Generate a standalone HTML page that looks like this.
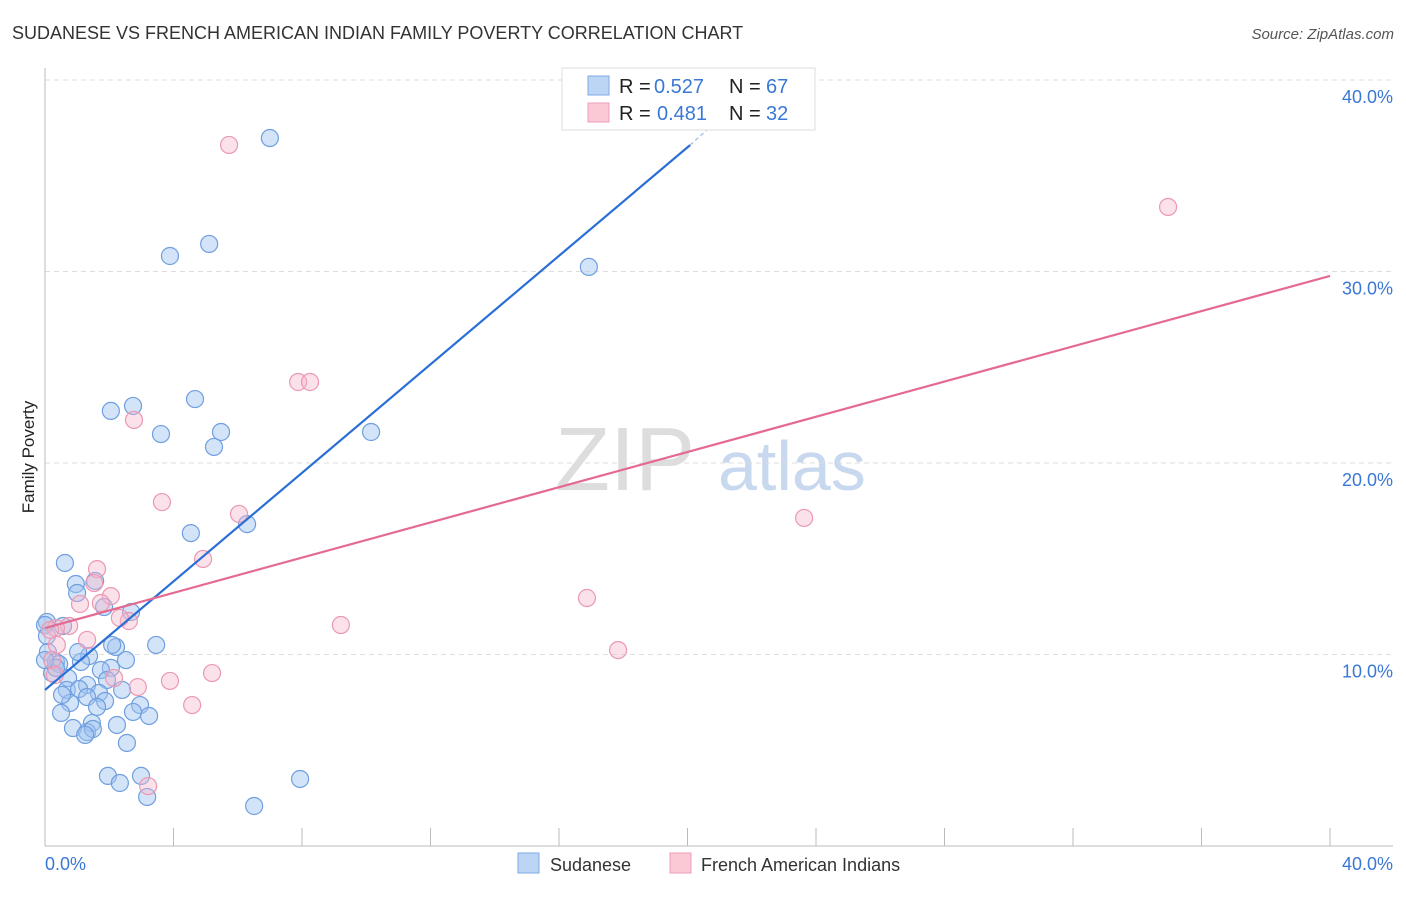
<!DOCTYPE html>
<html><head><meta charset="utf-8"><style>
body{margin:0;background:#fff;font-family:"Liberation Sans",sans-serif;}
svg text{font-family:"Liberation Sans",sans-serif;}
</style></head><body>
<svg id="chart" width="1406" height="892">
<text x="12" y="39" font-size="18" fill="#333">SUDANESE VS FRENCH AMERICAN INDIAN FAMILY POVERTY CORRELATION CHART</text>
<text x="1394" y="39" font-size="15" fill="#555" font-style="italic" text-anchor="end">Source: ZipAtlas.com</text>
<text x="34" y="457" font-size="17" fill="#222" text-anchor="middle" transform="rotate(-90 34 457)">Family Poverty</text>
<text x="555" y="490" font-size="90" fill="#ddd" font-family="Liberation Serif">ZIP</text>
<text x="718" y="490" font-size="70" fill="#c8d8ee">atlas</text>
<g id="grid"></g><g id="axes"></g><g id="pts"></g><g id="lines"></g>
<g>
<rect x="562" y="68" width="253" height="62" fill="#fff" stroke="#ddd"/>
<rect x="588" y="76" width="21" height="19" fill="#bcd5f5" stroke="#7eaae6"/>
<rect x="588" y="103" width="21" height="19" fill="#fbc8d6" stroke="#ef9fb8"/>
<text x="619" y="93" font-size="20" fill="#222">R =</text>
<text x="654" y="93" font-size="20" fill="#3a78d6">0.527</text>
<text x="729" y="93" font-size="20" fill="#222">N =</text>
<text x="766" y="93" font-size="20" fill="#3a78d6">67</text>
<text x="619" y="120" font-size="20" fill="#222">R =</text>
<text x="657" y="120" font-size="20" fill="#3a78d6">0.481</text>
<text x="729" y="120" font-size="20" fill="#222">N =</text>
<text x="766" y="120" font-size="20" fill="#3a78d6">32</text>
</g>
<g>
<rect x="518" y="853" width="21" height="20" fill="#bcd5f5" stroke="#7eaae6"/>
<text x="550" y="871" font-size="18" fill="#333">Sudanese</text>
<rect x="670" y="853" width="21" height="20" fill="#fbc8d6" stroke="#ef9fb8"/>
<text x="701" y="871" font-size="18" fill="#333">French American Indians</text>
</g>
</svg>
<script>
const yTicks=[10,20,30,40];
const yTickLabels=["10.0%","20.0%","30.0%","40.0%"];
const xEndLabels=["0.0%","40.0%"];
const sudX=[7.0,3.89,5.11,16.93,2.05,2.74,4.67,3.61,5.48,5.26,10.15,4.54,6.29,0.62,0.96,1.56,1.0,1.84,2.68,0.56,0.06,0.09,0.34,0.44,2.21,3.46,1.37,1.12,2.05,2.52,1.74,0.22,0.72,1.31,1.93,0.68,1.06,1.68,2.40,1.31,1.87,0.78,1.62,2.96,2.74,3.24,0.50,1.46,0.87,1.31,1.49,2.24,2.55,1.96,2.33,2.99,3.18,6.51,7.94,0.0,0.06,0.34,0.53,0.0,2.09,1.03,1.25];
const sudY=[36.97,30.81,31.44,30.24,22.72,22.98,23.34,21.51,21.62,20.84,21.62,16.34,16.81,14.78,13.68,13.84,13.21,12.48,12.22,11.49,11.70,10.13,9.61,9.50,10.39,10.50,9.92,9.61,9.30,9.71,9.19,9.03,8.77,8.41,8.67,8.15,8.20,7.99,8.15,7.78,7.57,7.47,7.26,7.36,7.00,6.79,6.95,6.42,6.16,5.95,6.11,6.32,5.38,3.66,3.29,3.66,2.56,2.09,3.50,11.54,10.97,9.30,7.89,9.71,10.50,10.13,5.80];
const frX=[5.73,34.96,7.88,8.25,2.77,3.64,6.04,23.63,4.92,1.62,1.53,2.05,1.74,1.09,2.61,2.33,0.75,0.34,0.16,9.21,16.87,17.84,1.31,0.37,5.20,2.15,3.89,2.89,4.58,3.21,0.22,0.31];
const frY=[36.61,33.37,24.23,24.23,22.25,17.96,17.34,17.13,14.99,14.46,13.73,13.05,12.69,12.64,11.75,11.91,11.49,11.38,11.28,11.54,12.95,10.23,10.76,10.50,9.03,8.77,8.62,8.30,7.36,3.13,9.71,8.93];
const sudLine=[0,8.15,20.08,36.6,21.0,38.0];
const frLine=[0,11.38,40,29.77];
const NS="http://www.w3.org/2000/svg";
const X=v=>45+v*32.125, Y=v=>846-v*19.15;
function mk(p,t,a){const e=document.createElementNS(NS,t);for(const k in a)e.setAttribute(k,a[k]);document.getElementById(p).appendChild(e);return e;}
yTicks.forEach((t,i)=>{
 const g=mk('grid','line',{x1:45,x2:1393,y1:Y(t),y2:Y(t),stroke:'#ddd','stroke-dasharray':'5,4'});
 
 
 const l=mk('axes','text',{x:1393,y:Y(t)+23,'font-size':18,fill:'#3a78d6','text-anchor':'end'});l.textContent=yTickLabels[i];
 
 
});
const ax=mk('axes','line',{x1:45,x2:1393,y1:846,y2:846,stroke:'#bbb'});


const ay=mk('axes','line',{x1:45,x2:45,y1:68,y2:846,stroke:'#bbb'});


for(let k=1;k<=10;k++){const t=mk('axes','line',{x1:X(k*4),x2:X(k*4),y1:828,y2:846,stroke:'#bbb'});
 
 }
const l0=mk('axes','text',{x:45,y:870,'font-size':18,fill:'#3a78d6'});l0.textContent=xEndLabels[0];


const l1=mk('axes','text',{x:1393,y:870,'font-size':18,fill:'#3a78d6','text-anchor':'end'});l1.textContent=xEndLabels[1];


sudX.forEach((x,i)=>{const c=mk('pts','circle',{cx:X(x),cy:Y(sudY[i]),r:8.5,fill:'rgba(160,196,240,0.45)',stroke:'#6f9fe0','stroke-width':1.2});
 
 });
frX.forEach((x,i)=>{const c=mk('pts','circle',{cx:X(x),cy:Y(frY[i]),r:8.5,fill:'rgba(246,182,202,0.4)',stroke:'#eb98b3','stroke-width':1.2});
 
 });
const bl=mk('lines','line',{x1:X(sudLine[0]),y1:Y(sudLine[1]),x2:X(sudLine[2]),y2:Y(sudLine[3]),stroke:'#2a6fd6','stroke-width':2.2});


const bd=mk('lines','line',{x1:X(sudLine[2]),y1:Y(sudLine[3]),x2:X(sudLine[4]),y2:Y(sudLine[5]),stroke:'#9bb8e6','stroke-width':1.2,'stroke-dasharray':'4,3'});


const pl=mk('lines','line',{x1:X(frLine[0]),y1:Y(frLine[1]),x2:X(frLine[2]),y2:Y(frLine[3]),stroke:'#e46a93','stroke-width':2.2});


</script>
</body></html>
